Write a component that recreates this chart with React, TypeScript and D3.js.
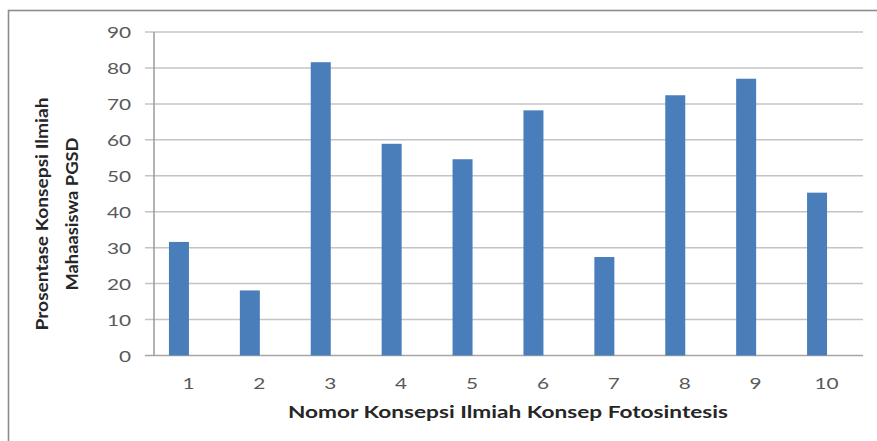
import React, { useEffect, useRef } from "react";
import * as d3 from "d3";

// data
const categories = ["1", "2", "3", "4", "5", "6", "7", "8", "9", "10"];
const values = [31.6, 18.1, 81.6, 58.9, 54.6, 68.2, 27.4, 72.4, 77.0, 45.3];
const yTicks = [0, 10, 20, 30, 40, 50, 60, 70, 80, 90];
const xTitle = "Nomor Konsepsi Ilmiah Konsep Fotosintesis";
const yTitle = ["Prosentase Konsepsi Ilmiah", "Mahaasiswa PGSD"];

const W = 877;
const H = 441;

function App() {
  const ref = useRef<SVGSVGElement>(null);

  useEffect(() => {
    const svg = d3.select(ref.current);
    svg.selectAll("*").remove();

    // chart frame (clipped on right and bottom in the original)
    svg
      .append("rect")
      .attr("x", 8.5)
      .attr("y", 10.5)
      .attr("width", W + 20)
      .attr("height", H + 20)
      .attr("fill", "#fff")
      .attr("stroke", "#8c8c8c")
      .attr("stroke-width", 1.6);

    var x = d3.scaleBand().domain(categories).range([153, 862]);
    var y = d3.scaleLinear().domain([0, 90]).range([355.5, 32]);
    var barShift = -9.5; // bars sit a little left of their labels in the source
    var barW = 20;

    // gridlines + left tick stubs
    var g = svg.append("g");
    g.selectAll("line.grid")
      .data(yTicks)
      .enter()
      .append("line")
      .attr("class", "grid")
      .attr("x1", 145)
      .attr("x2", 863)
      .attr("y1", d => y(d))
      .attr("y2", d => y(d))
      .attr("stroke", d => (d === 0 ? "#a6a6a6" : "#c4c4c4"))
      .attr("stroke-width", 1.5);

    // y axis line
    g.append("line")
      .attr("x1", 154)
      .attr("x2", 154)
      .attr("y1", y(90))
      .attr("y2", y(0))
      .attr("stroke", "#9a9a9a")
      .attr("stroke-width", 1.5);

    // y tick labels
    g.selectAll("text.ytick")
      .data(yTicks)
      .enter()
      .append("text")
      .attr("class", "ytick")
      .attr("text-anchor", "end")
      .attr("transform", d => `translate(131,${y(d) + 6}) scale(1.3,1)`)
      .attr("font-family", "Lato, sans-serif")
      .attr("font-size", 16)
      .attr("fill", "#595959")
      .text(d => d);

    // bars
    g.selectAll("rect.bar")
      .data(values)
      .enter()
      .append("rect")
      .attr("class", "bar")
      .attr("x", (d, i) => x(categories[i])! + x.bandwidth() / 2 + barShift - barW / 2)
      .attr("y", d => y(d))
      .attr("width", barW)
      .attr("height", d => y(0) - y(d))
      .attr("fill", "#4a7ebb");

    // x tick labels
    g.selectAll("text.xtick")
      .data(categories)
      .enter()
      .append("text")
      .attr("class", "xtick")
      .attr("text-anchor", "middle")
      .attr("transform", d => `translate(${x(d)! + x.bandwidth() / 2},389) scale(1.3,1)`)
      .attr("font-family", "Lato, sans-serif")
      .attr("font-size", 16)
      .attr("fill", "#595959")
      .text(d => d);

    // axis titles
    svg
      .append("text")
      .attr("x", 508)
      .attr("y", 418)
      .attr("text-anchor", "middle")
      .attr("textLength", 440)
      .attr("lengthAdjust", "spacingAndGlyphs")
      .attr("font-family", "Lato, sans-serif")
      .attr("font-weight", "bold")
      .attr("font-size", 17)
      .attr("fill", "#262626")
      .text(xTitle);

    var lens = [233, 153];
    var xs = [48, 78];
    yTitle.forEach((t, i) => {
      svg
        .append("text")
        .attr("transform", `translate(${xs[i]},214) rotate(-90)`)
        .attr("text-anchor", "middle")
        .attr("textLength", lens[i])
        .attr("lengthAdjust", "spacingAndGlyphs")
        .attr("font-family", "Lato, sans-serif")
        .attr("font-weight", "bold")
        .attr("font-size", 17)
        .attr("fill", "#262626")
        .text(t);
    });
  });

  return (
    <svg
      ref={ref}
      width={W}
      height={H}
      style={{ position: "absolute", left: 0, top: 0, background: "#fff" }}
    />
  );
}

export default App;
